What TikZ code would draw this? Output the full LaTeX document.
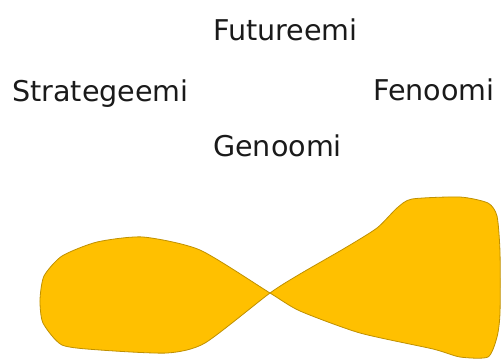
\documentclass[tikz,border=0pt]{standalone}
\usepackage{fontspec}
\setmainfont{DejaVu Sans}
\definecolor{blobfill}{HTML}{FFC000}
\definecolor{blobline}{HTML}{BF9000}
\definecolor{txt}{HTML}{1A1A1A}
\tikzset{
  lbl/.style={anchor=base west, inner sep=0pt, text=txt, font=\fontsize{28.6}{34}\selectfont},
  blob/.style={fill=blobfill, draw=blobline, line width=0.8pt, line join=round}
}
\begin{document}
\begin{tikzpicture}[x=1pt,y=-1pt]
\useasboundingbox (0,0) rectangle (501,360);
\node[lbl] (fut) at (213,40) {Futureemi};
\node[lbl] (str) at (12,101) {Strategeemi};
\node[lbl] (fen) at (373,100) {Fenoomi};
\node[lbl] (gen) at (213,156) {Genoomi};
\path[blob] plot[smooth cycle, tension=0.4] coordinates {
 (44,276) (62,256) (97,242) (143,237) (200,250) (270,293)
 (300,311) (360,333) (433,349) (460,357) (488,357)
 (497,337) (500,313) (500,252) (497,216) (488,203) (460,197) (412,199) (397,208)
 (377,228) (345,248) (300,274) (270,293)
 (205,343) (167,353) (100,350) (62,345) (43,323) (40,300)
};
\end{tikzpicture}
\end{document}
